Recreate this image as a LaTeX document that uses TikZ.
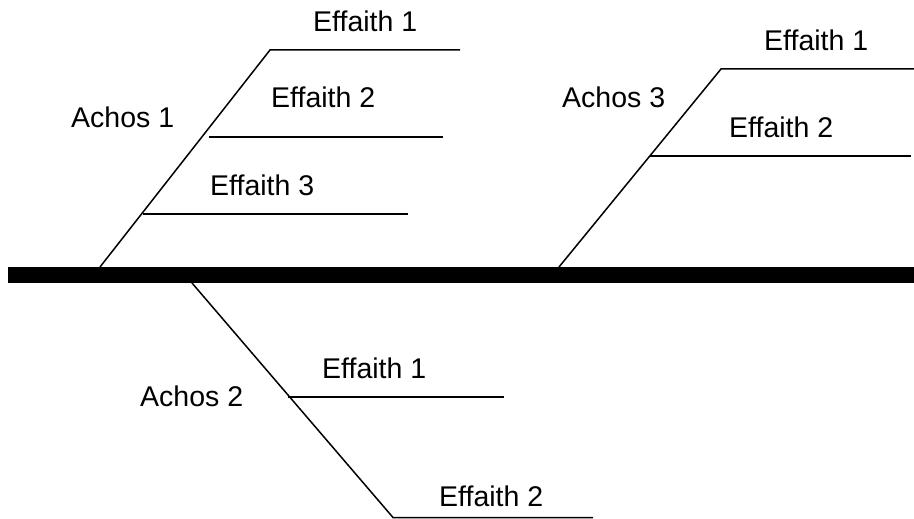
\documentclass[tikz,border=0pt]{standalone}
\usepackage{fontspec}
\setmainfont{Liberation Sans}
\begin{document}
\begin{tikzpicture}[x=1pt,y=-1pt,
  lbl/.style={anchor=base west,inner sep=0pt,font=\fontsize{28.5}{34}\selectfont},
  bone/.style={line width=1.5pt},
  spine/.style={line width=16pt}]
\useasboundingbox (0,0) rectangle (914,519);
% spine
\coordinate (sL) at (7.5,275);
\coordinate (sR) at (914,275);
\draw[spine] (sL) -- (sR);
% Achos 1
\coordinate (a1b) at (100,267);
\coordinate (a1t) at (270,50);
\coordinate (a1e1) at (460,50);
\coordinate (a1m2) at (209,137);
\coordinate (a1e2) at (443,137);
\coordinate (a1m3) at (143,214);
\coordinate (a1e3) at (408,214);
\draw[bone] (a1b) -- (a1t) -- (a1e1);
\draw[bone] (a1m2) -- (a1e2);
\draw[bone] (a1m3) -- (a1e3);
\node[lbl] (A1) at (71,128) {Achos 1};
\node[lbl] (A1E1) at (313,32) {Effaith 1};
\node[lbl] (A1E2) at (271,108) {Effaith 2};
\node[lbl] (A1E3) at (210,195) {Effaith 3};
% Achos 3
\coordinate (a3b) at (559,267);
\coordinate (a3t) at (721,69);
\coordinate (a3e1) at (914,69);
\coordinate (a3m2) at (650,156);
\coordinate (a3e2) at (911,156);
\draw[bone] (a3b) -- (a3t) -- (a3e1);
\draw[bone] (a3m2) -- (a3e2);
\node[lbl] (A3) at (562,108) {Achos 3};
\node[lbl] (A3E1) at (764,51) {Effaith 1};
\node[lbl] (A3E2) at (729,137) {Effaith 2};
% Achos 2
\coordinate (a2t) at (192,283);
\coordinate (a2b) at (393,517.5);
\coordinate (a2e2) at (593,517.5);
\coordinate (a2m1) at (288,397);
\coordinate (a2e1) at (504,397);
\draw[bone] (a2t) -- (a2b) -- (a2e2);
\draw[bone] (a2m1) -- (a2e1);
\node[lbl] (A2) at (140,406) {Achos 2};
\node[lbl] (A2E1) at (322,378) {Effaith 1};
\node[lbl] (A2E2) at (439,506) {Effaith 2};
\end{tikzpicture}
\end{document}
